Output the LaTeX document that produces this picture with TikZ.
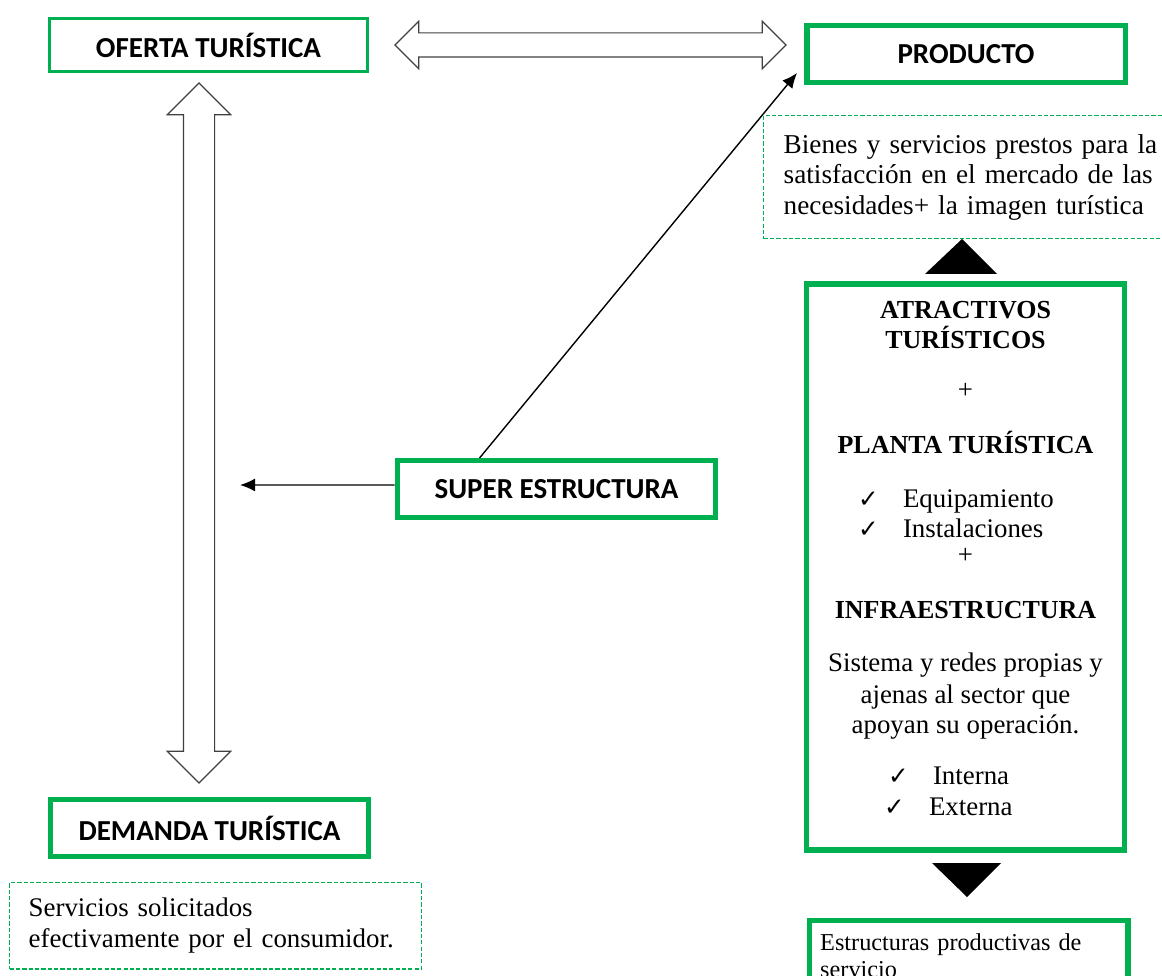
\documentclass[tikz,border=0pt]{standalone}
\usepackage{fontspec}
\setmainfont{Liberation Serif}
\newfontfamily\calibri{Carlito}
\newfontfamily\simbolos{DejaVu Sans}
\usepackage{xcolor}
\definecolor{verde}{HTML}{00B050}
\usepackage{tikz}
\usetikzlibrary{shapes.arrows,arrows.meta}

\newcommand{\chk}{\makebox[0.9cm][l]{\simbolos\fontsize{14}{14}\selectfont ✓}}

\begin{document}
\begin{tikzpicture}[
  x=0.02cm, y=-0.02cm, %pixels
  caja/.style={draw=verde, line width=3.1pt, inner sep=0pt,
    minimum width=6.37cm, minimum height=1.13cm,
    font=\calibri\bfseries\fontsize{16.5}{20}\selectfont},
  cajafina/.style={caja, line width=1.55pt, minimum height=1.07cm},
  nota/.style={draw=verde, dash pattern=on 2.4pt off 1.2pt, line width=0.8pt,
    inner sep=0pt, align=left, font=\fontsize{15.3}{17.6}\selectfont},
  hueca/.style={double arrow, draw=black!75, line width=0.7pt, inner xsep=0pt},
  flecha/.style={-{Latex[length=0.3cm,width=0.26cm]}, line width=0.8pt},
  texto/.style={align=center, inner sep=0pt, font=\fontsize{15.3}{17.07}\selectfont}
  ]
  \useasboundingbox (0,0) rectangle (1162,976);

  % cajas
  \node[cajafina] (oferta) at (208.5,45) {OFERTA TURÍSTICA};
  \node[caja] (producto) at (966,54) {PRODUCTO};
  \node[caja] (superestr) at (556.5,489) {SUPER ESTRUCTURA};
  \node[caja] (demanda) at (209.5,828) {DEMANDA TURÍSTICA};
  \node[caja, minimum height=11.33cm, font=] (atractivos) at (965.5,567) {};
  \node[caja, anchor=north west, text width=5.94cm, align=left,
    inner xsep=0.2cm, inner ysep=0.255cm,
    font=\fontsize{13.8}{15.4}\selectfont] (estructuras) at (806.75,917.75)
    {Estructuras productivas de\\servicio};

  % notas
  \node[nota, anchor=north west, text width=7.9cm, inner xsep=0.4cm, inner ysep=0.37cm,
    font=\fontsize{15.5}{17.4}\selectfont] (bienes) at (763,115)
    {Bienes y servicios prestos para la\\
     satisfacción en el mercado de las\\
     necesidades+ la imagen turística};
  \node[nota, anchor=north west, text width=7.48cm, inner xsep=0.38cm, inner ysep=0.31cm]
    (servicios) at (9,882)
    {Servicios solicitados\\efectivamente por el consumidor.};

  % contenido
  \node[texto, anchor=north] (atrtxt) at (965.5,300.8) {
    {\bfseries\fontsize{14.8}{17.07}\selectfont ATRACTIVOS}\\
    {\bfseries\fontsize{14.8}{17.07}\selectfont TURÍSTICOS}\\[0.41cm]
    +\\[0.49cm]
    {\bfseries\fontsize{14.8}{17.07}\selectfont PLANTA TURÍSTICA}\\[0.48cm]
    \makebox[4.3cm][l]{\chk Equipamiento}\\
    \makebox[4.3cm][l]{\chk Instalaciones}\\[-0.07cm]
    +\\[0.49cm]
    {\bfseries\fontsize{14.8}{17.07}\selectfont INFRAESTRUCTURA}\\[0.46cm]
    Sistema y redes propias y\\[0.04cm]
    ajenas al sector que\\
    apoyan su operación.\\[0.42cm]
    \makebox[3.1cm][l]{\chk Interna}\\[0.02cm]
    \makebox[3.26cm][l]{\chk Externa}
  };

  % flechas huecas
  \node[hueca, minimum height=7.82cm, inner ysep=0.23cm,
    double arrow head extend=0.23cm] (enlace) at (590.5,45) {};
  \node[hueca, rotate=90, minimum height=14cm, inner ysep=0.3cm,
    double arrow head extend=0.32cm] (eje) at (199,433) {};

  % triangulos
  \fill (925,274) -- (962,239) -- (997,274) -- cycle;
  \fill (932,863) -- (967,897) -- (1001,863) -- cycle;

  % conectores
  \coordinate (puntasup) at (240,485);
  \coordinate (puntaprod) at (797,73);
  \draw[flecha] ([yshift=0.08cm]superestr.west) -- (puntasup);
  \draw[flecha] ([xshift=1.7cm]superestr.north west) -- (puntaprod);

\end{tikzpicture}
\end{document}
